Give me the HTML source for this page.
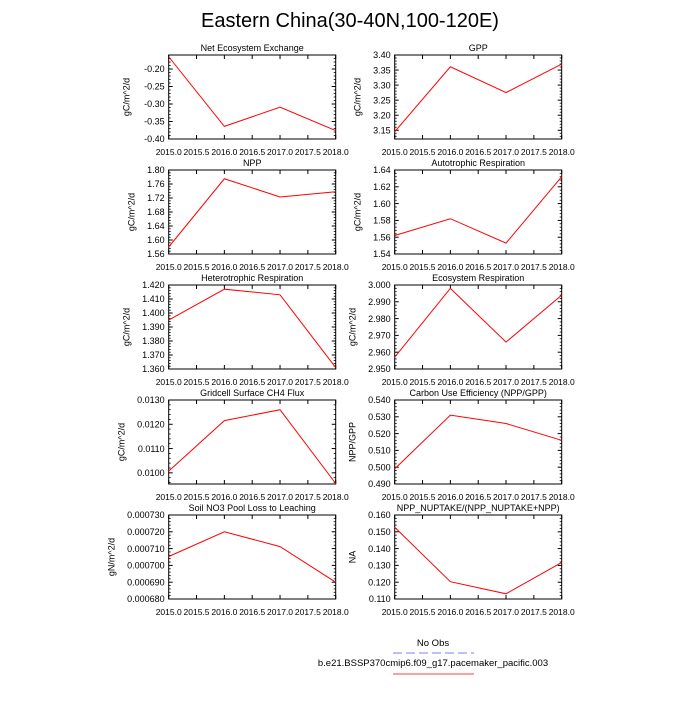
<!DOCTYPE html>
<html><head><meta charset="utf-8"><style>
html,body{margin:0;padding:0;background:#fff;}
svg text{font-family:"Liberation Sans",sans-serif;fill:#000;}
</style></head><body>
<svg id="c" width="700" height="700" viewBox="0 0 700 700" xmlns="http://www.w3.org/2000/svg">
<text x="350" y="27" text-anchor="middle" font-size="20">Eastern China(30-40N,100-120E)</text>
<g id="panels"></g>
<g>
<text x="433" y="646" text-anchor="middle" font-size="9.5">No Obs</text>
<line x1="393" y1="653" x2="474" y2="653" stroke="#9999ff" stroke-width="1.2" stroke-dasharray="9,4,9,4"/>
<text x="433" y="666" text-anchor="middle" font-size="9.5">b.e21.BSSP370cmip6.f09_g17.pacemaker_pacific.003</text>
<line x1="393" y1="674" x2="474" y2="674" stroke="#ff6666" stroke-width="1.2"/>
</g>
</svg>
<script>
const years = [2015, 2016, 2017, 2018];
const xTickLabels = ["2015.0","2015.5","2016.0","2016.5","2017.0","2017.5","2018.0"];
const titles = ["Net Ecosystem Exchange","GPP","NPP","Autotrophic Respiration","Heterotrophic Respiration","Ecosystem Respiration","Gridcell Surface CH4 Flux","Carbon Use Efficiency (NPP/GPP)","Soil NO3 Pool Loss to Leaching","NPP_NUPTAKE/(NPP_NUPTAKE+NPP)"];
const units = ["gC/m^2/d","gC/m^2/d","gC/m^2/d","gC/m^2/d","gC/m^2/d","gC/m^2/d","gC/m^2/d","NPP/GPP","gN/m^2/d","NA"];
const nee = [-0.165, -0.364, -0.309, -0.376];
const gpp = [3.145, 3.361, 3.275, 3.370];
const npp = [1.580, 1.775, 1.723, 1.738];
const ar = [1.562, 1.582, 1.553, 1.632];
const hr = [1.395, 1.417, 1.413, 1.361];
const er = [2.957, 2.998, 2.966, 2.994];
const ch4 = [0.01007, 0.01215, 0.0126, 0.00956];
const cue = [0.499, 0.531, 0.526, 0.516];
const no3 = [0.0007053, 0.000720, 0.0007112, 0.000690];
const nup = [0.1527, 0.1203, 0.1131, 0.1318];
const seriesList = [nee, gpp, npp, ar, hr, er, ch4, cue, no3, nup];
const yMins = [-0.40, 3.121, 1.56, 1.54, 1.360, 2.950, 0.00954, 0.490, 0.000680, 0.110];
const yMaxs = [-0.16, 3.40, 1.80, 1.64, 1.420, 3.000, 0.0130, 0.540, 0.000730, 0.160];
const yTickStarts = [-0.40, 3.15, 1.56, 1.54, 1.360, 2.950, 0.0100, 0.490, 0.000680, 0.110];
const yTickSteps = [0.05, 0.05, 0.04, 0.02, 0.010, 0.010, 0.0010, 0.010, 0.000010, 0.010];
const yDecimals = [2, 2, 2, 2, 3, 3, 4, 3, 6, 3];

const NS = "http://www.w3.org/2000/svg";
const root = document.getElementById("panels");
function mk(tag, attrs, parent) {
  const e = document.createElementNS(NS, tag);
  for (const k in attrs) e.setAttribute(k, attrs[k]);
  parent.appendChild(e);
  return e;
}
const colX = [168.7, 394.7], W = 167, H = 84;
for (let i = 0; i < 10; i++) {
  const L = colX[i % 2], T = 55 + Math.floor(i / 2) * 115, R = L + W, B = T + H;
  const g = mk("g", {}, root);
  
  
  const xs = v => L + (v - 2015) / 3 * W;
  const ys = v => B - (v - yMins[i]) / (yMaxs[i] - yMins[i]) * H;
  const t = mk("text", {x: (L + R) / 2, y: T - 4, "text-anchor": "middle", "font-size": "9"}, g);
  t.textContent = titles[i];
  
  
  // x ticks
  for (let k = 0; k <= 6; k++) {
    const x = L + k / 6 * W;
    mk("line", {x1: x, y1: B, x2: x, y2: B - 4, stroke: "#000", "stroke-width": 1}, g);
    mk("line", {x1: x, y1: T, x2: x, y2: T + 4, stroke: "#000", "stroke-width": 1}, g);
    const lb = mk("text", {x: x, y: B + 16, "text-anchor": "middle", "font-size": "8.5"}, g);
    lb.textContent = xTickLabels[k];
    
    
  }
  // y ticks
  const st = yTickSteps[i];
  let maxChars = 0;
  for (let k = 0; ; k++) {
    const v = yTickStarts[i] + k * st;
    if (v > yMaxs[i] + st * 0.01) break;
    const y = ys(v);
    mk("line", {x1: L, y1: y, x2: L + 4, y2: y, stroke: "#000", "stroke-width": 1}, g);
    mk("line", {x1: R, y1: y, x2: R - 4, y2: y, stroke: "#000", "stroke-width": 1}, g);
    const lb = mk("text", {x: L - 4, y: y + 3.2, "text-anchor": "end", "font-size": "9"}, g);
    lb.textContent = v.toFixed(yDecimals[i]);
    maxChars = Math.max(maxChars, lb.textContent.length);
    
    
  }
  for (let k = -10; k < 60; k++) {
    const v = yTickStarts[i] + k * st / 5;
    if (k % 5 === 0 || v < yMins[i] || v > yMaxs[i]) continue;
    const y = ys(v);
    mk("line", {x1: L, y1: y, x2: L + 2, y2: y, stroke: "#000", "stroke-width": 0.8}, g);
    mk("line", {x1: R, y1: y, x2: R - 2, y2: y, stroke: "#000", "stroke-width": 0.8}, g);
  }
  const tx = L - 14 - maxChars * 5;
  const yt = mk("text", {x: 0, y: 0, "text-anchor": "middle", "font-size": "9", transform: "translate(" + tx + "," + (T + H / 2) + ") rotate(-90)"}, g);
  yt.textContent = units[i];
  
  
  const fr = mk("rect", {x: L, y: T, width: W, height: H, fill: "none", stroke: "#000", "stroke-width": 1}, g);
  
  
  const pts = seriesList[i].map((v, j) => xs(years[j]).toFixed(2) + "," + ys(v).toFixed(2)).join(" ");
  const pl = mk("polyline", {points: pts, fill: "none", stroke: "#ff0000", "stroke-width": 1}, g);
  
  
}
</script>
</body></html>
